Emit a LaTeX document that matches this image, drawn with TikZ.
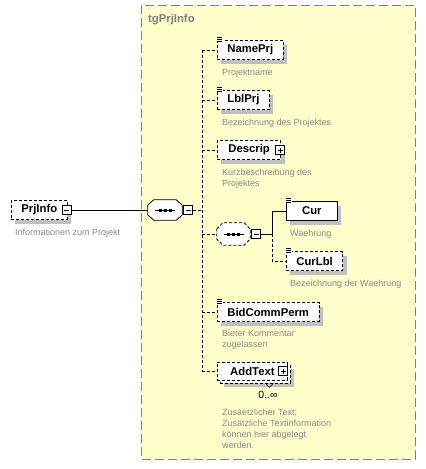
\documentclass[tikz,border=0pt]{standalone}
\usepackage{fontspec}
\setmainfont{Liberation Sans}
\usetikzlibrary{calc,positioning,shadows}

\definecolor{grupo}{HTML}{FFFFCC}
\definecolor{borde}{HTML}{808080}
\definecolor{sombra}{HTML}{C0C0C0}
\definecolor{nota}{HTML}{8A8A8A}

\begin{document}
\begin{tikzpicture}[x=1pt,y=-1pt,
  sombreado/.style={drop shadow={shadow xshift=4pt,shadow yshift=-4pt,fill=sombra,opacity=1}},
  marco/.style={draw,fill=white,line width=0.8pt,minimum height=19pt,inner xsep=10pt,inner ysep=0pt,
    font=\fontsize{11.3}{13}\selectfont\bfseries},
  elem/.style={marco,sombreado},
  punteado/.style={line width=0.8pt,dash pattern=on 3pt off 2pt},
  solido/.style={line width=0.8pt},
  opt/.style={elem,punteado},
  seq/.style={minimum width=34pt,minimum height=20pt,inner sep=0pt},
  caja/.style={draw,fill=white,line width=0.7pt,minimum size=9pt,inner sep=0pt},
  menos/.style={caja,path picture={
    \draw ([xshift=2pt]path picture bounding box.west) -- ([xshift=-2pt]path picture bounding box.east);}},
  mas/.style={caja,path picture={
    \draw ([xshift=2pt]path picture bounding box.west) -- ([xshift=-2pt]path picture bounding box.east);
    \draw ([yshift=2pt]path picture bounding box.south) -- ([yshift=-2pt]path picture bounding box.north);}},
  nota/.style={anchor=north west,text=nota,font=\fontsize{9}{11}\selectfont,align=left,inner sep=0pt},
]
\useasboundingbox (0,0) rectangle (426,469);

% Grupo
\draw[borde,fill=grupo,line width=0.8pt,dash pattern=on 9pt off 4pt] (141,5) rectangle (415,459);
\node[anchor=west,text=borde,font=\fontsize{11.3}{13}\selectfont\bfseries,inner sep=0pt] (tgPrjInfo) at (148,20) {tgPrjInfo};

% Elemento raiz
\node[opt,anchor=west] (PrjInfo) at (11,210) {PrjInfo};
\node[menos] (PrjInfoM) at ([xshift=-1pt]PrjInfo.east) {};

% Secuencias
\node[seq] (seqA) at (165,210) {};
\node[seq,minimum width=33pt,minimum height=22pt] (seqB) at (233.5,234) {};
\foreach \s/\estilo in {seqA/solido,seqB/punteado} {
  \fill[sombra,shift={(4,4)}] ($(\s.west)+(0,-5)$) -- ($(\s.north west)+(6,0)$) -- ($(\s.north east)+(-6,0)$)
    -- ($(\s.east)+(0,-5)$) -- ($(\s.east)+(0,5)$) -- ($(\s.south east)+(-6,0)$)
    -- ($(\s.south west)+(6,0)$) -- ($(\s.west)+(0,5)$) -- cycle;
  \draw[\estilo,fill=white] ($(\s.west)+(0,-5)$) -- ($(\s.north west)+(6,0)$) -- ($(\s.north east)+(-6,0)$)
    -- ($(\s.east)+(0,-5)$) -- ($(\s.east)+(0,5)$) -- ($(\s.south east)+(-6,0)$)
    -- ($(\s.south west)+(6,0)$) -- ($(\s.west)+(0,5)$) -- cycle;
  \draw[solido] ([xshift=-10pt]\s.center) -- ([xshift=10pt]\s.center);
  \foreach \d in {-5,0,5}
    \fill ([xshift=\d pt]\s.center) +(-1.5,-1.5) rectangle +(1.5,1.5);
}
\node[menos,right=1pt of seqA] (seqAM) {};
\node[menos,right=1pt of seqB] (seqBM) {};

% Hijos
\node[opt,anchor=west] (NamePrj) at (217,50) {NamePrj};
\node[opt,anchor=west] (LblPrj) at (217,100) {LblPrj};
\node[opt,anchor=west,inner xsep=11pt] (Descrip) at (217,150) {Descrip};
\node[mas] (DescripM) at ([xshift=-1pt]Descrip.east) {};
\node[elem,anchor=west,minimum width=51pt] (Cur) at (286,211) {Cur};
\node[opt,anchor=west,minimum width=51pt] (CurLbl) at (286,261) {CurLbl};
\node[opt,anchor=west] (BidCommPerm) at (217,312) {BidCommPerm};
\node[opt,anchor=west,minimum width=70pt,minimum height=18pt] (AddTextB) at (220,374) {};
\node[marco,punteado,anchor=west,minimum width=70pt,minimum height=18pt] (AddText) at (217,371) {AddText};
\node[mas] (AddTextM) at ([xshift=-4.5pt]AddText.east) {};
\draw[line width=0.6pt] ($(AddTextB.south)+(10,0)$) -- ++(4,4) -- ++(4,-4);
\node[font=\fontsize{10.5}{12}\selectfont,inner sep=0pt] (AddTextN) at (268,395) {0..∞};

% Iconos de documentacion
\foreach \n in {NamePrj,LblPrj,Cur,CurLbl,BidCommPerm} {
  \fill[white] ([yshift=3pt]\n.north west) rectangle ++(6,5);
  \foreach \k in {2.5,0.7,-1.1}
    \draw[line width=0.45pt] ([yshift=\k pt]\n.north west) -- ++(5,0);
}

% Notas
\foreach \n/\x/\y/\t in {PrjInfo/15/228.5/Informationen zum Projekt,
    NamePrj/222/68.5/Projektname,
    LblPrj/222/118.5/Bezeichnung des Projektes,
    Descrip/222/168.5/{Kurzbeschreibung des\\Projektes},
    Cur/290/229.5/Waehrung,
    CurLbl/290/279.5/Bezeichnung der Waehrung,
    BidCommPerm/222/329.5/{Bieter Kommentar\\zugelassen},
    AddText/222/408.5/{Zusaetzlicher Text;\\Zusätzliche Textinformation\\können hier abgelegt\\werden.}}
  \node[nota] (nota\n) at (\x,\y) {\t};

% Conexiones
\coordinate (troncoA) at (202,0);
\coordinate (troncoB) at (272,0);
\draw[solido] (PrjInfoM.east) -- (seqA.west);
\draw[punteado] (seqAM.east) -- (troncoA |- seqAM);
\draw[punteado] (troncoA |- NamePrj.west) -- (troncoA |- AddText.west);
\foreach \n in {NamePrj,LblPrj,Descrip,seqB,BidCommPerm,AddText}
  \draw[punteado] (troncoA |- \n.west) -- (\n.west);
\draw[solido] (seqBM.east) -- (troncoB |- seqBM) -- (troncoB |- Cur.west) -- (Cur.west);
\draw[punteado] (troncoB |- seqBM) -- (troncoB |- CurLbl.west) -- (CurLbl.west);
\end{tikzpicture}
\end{document}
